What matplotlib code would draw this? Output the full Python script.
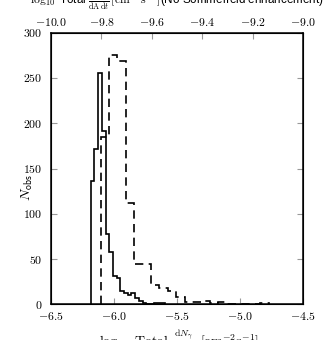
import numpy as np
import matplotlib
matplotlib.use("Agg")
import matplotlib.pyplot as plt
from matplotlib.ticker import FormatStrFormatter

plt.rcParams['mathtext.fontset'] = 'cm'
plt.rcParams['font.family'] = ['Liberation Sans', 'DejaVu Sans']

# solid histogram (with Sommerfeld), 20 bins
solid_lo, solid_w = -6.185, 0.0294
solid_counts = [136, 172, 256, 191, 78, 58, 31, 29, 15, 13,
                10, 12, 7, 4, 1, 0, 0, 1, 1, 1]

# dashed histogram (no Sommerfeld), 20 bins
dash_lo, dash_w = -6.106, 0.0667
dash_counts = [185, 275, 269, 112, 45, 44, 21, 18, 15, 8,
               3, 3, 4, 1, 3, 0, 0, 0, 0, 1]

xticks_bottom = [-6.5, -6.0, -5.5, -5.0, -4.5]
xticks_top = [-10.0, -9.8, -9.6, -9.4, -9.2, -9.0]
yticks = [0, 50, 100, 150, 200, 250, 300]

solid_edges = solid_lo + solid_w*np.arange(len(solid_counts)+1)
dash_edges = dash_lo + dash_w*np.arange(len(dash_counts)+1)

fig = plt.figure(figsize=(3.25, 3.4), dpi=100)
ax = fig.add_axes([51/325, 1-304.3/340, 252/325, 271.6/340])

ax.stairs(solid_counts, solid_edges, color='black', lw=1.2)
ax.stairs(dash_counts, dash_edges, color='black', lw=1.2,
          linestyle=(0, (5, 3.2)))

ax.set_xlim(-6.5, -4.5)
ax.set_ylim(0, 300)
ax.set_xticks(xticks_bottom)
ax.set_yticks(yticks)
ax.xaxis.set_major_formatter(FormatStrFormatter(r'$%.1f$'))
ax.yaxis.set_major_formatter(FormatStrFormatter(r'$%d$'))
ax.tick_params(direction='in', length=4, width=0.8, color='#999999',
               labelsize=8.5, right=True, top=False)
ax.tick_params(axis='x', pad=5)
ax.tick_params(axis='y', pad=6)
for s in ax.spines.values():
    s.set_linewidth(1.1)

ax2 = ax.twiny()
ax2.set_xlim(-10.0, -9.0)
ax2.set_xticks(xticks_top)
ax2.xaxis.set_major_formatter(FormatStrFormatter(r'$%.1f$'))
ax2.tick_params(direction='in', length=4, width=0.8, color='#999999',
                labelsize=8.5, pad=3)

ax.set_xlabel(r'$\log_{10}\ \mathrm{Total}\ \frac{\mathrm{d}N_\gamma}{\mathrm{dA\,d}t}\ [\mathrm{cm}^{-2}\mathrm{s}^{-1}]$',
              fontsize=10, va='top')
ax.xaxis.set_label_coords(0.51, -0.085)
ax2.set_xlabel(r'$\log_{10}$ Total $\frac{\mathrm{d}N_\gamma}{\mathrm{dA\,d}t}\,[\mathrm{cm}^{-2}\mathrm{s}^{-1}]$(No Sommerfeld enhancement)',
               fontsize=8.4, va='bottom')
ax2.xaxis.set_label_coords(0.5, 1.075)

ax.set_ylabel(r'$N_{\mathsf{obs}}$', fontsize=10)
ax.yaxis.set_label_coords(-0.065, 0.43)

fig.savefig("out.png", dpi=100)
